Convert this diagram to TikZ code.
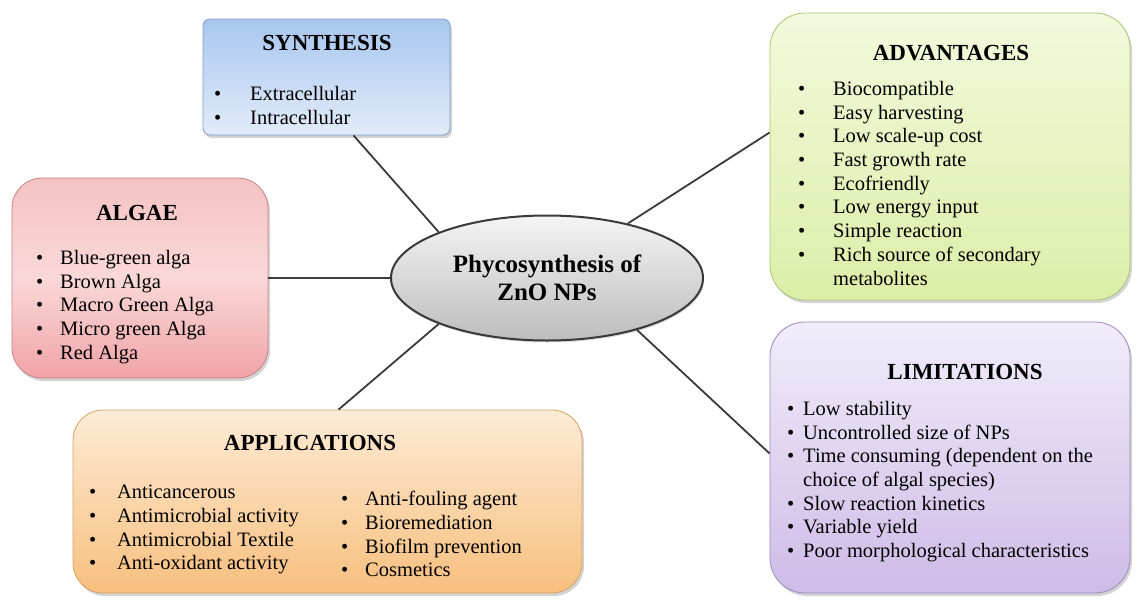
\documentclass[tikz,border=0pt]{standalone}
\usepackage{fontspec}
\setmainfont{Liberation Serif}
\usetikzlibrary{shapes.geometric,shadows}

\definecolor{synTop}{HTML}{A8C6EE}
\definecolor{synBot}{HTML}{E2ECF9}
\definecolor{synLine}{HTML}{7B9CCB}
\definecolor{algTop}{HTML}{F5C2C2}
\definecolor{algMid}{HTML}{FAD8D8}
\definecolor{algBot}{HTML}{F0A3A6}
\definecolor{algLine}{HTML}{C98487}
\definecolor{advTop}{HTML}{F2F9DC}
\definecolor{advBot}{HTML}{DCEEA8}
\definecolor{advLine}{HTML}{A9C774}
\definecolor{limTop}{HTML}{F2ECFA}
\definecolor{limBot}{HTML}{CDBCE7}
\definecolor{limLine}{HTML}{9C88BF}
\definecolor{appTop}{HTML}{FDEBD5}
\definecolor{appBot}{HTML}{F7BF7E}
\definecolor{appLine}{HTML}{D7A464}
\definecolor{coreTop}{HTML}{F4F4F4}
\definecolor{coreBot}{HTML}{BDBDBD}
\definecolor{wire}{HTML}{3A3A3A}

% bullet item, #1 = gap to the text
\newcommand{\li}[2]{\makebox[#1pt][l]{\textbullet}#2}

\begin{document}
\begin{tikzpicture}[x=1pt,y=-1pt,
    box/.style={rounded corners=30pt, line width=0.8pt,
      drop shadow={shadow xshift=2pt,shadow yshift=-3pt,opacity=0.35}},
    ttl/.style={inner sep=0pt, font=\fontsize{23}{27}\selectfont\bfseries},
    lst/.style={anchor=north west, inner sep=0pt, align=left,
      font=\fontsize{20.5}{23.7}\selectfont},
    wire/.style={draw=wire, line width=1.8pt}]
  \useasboundingbox (0,0) rectangle (1136,600);

  % centre
  \node[ellipse, draw=wire, line width=2pt, top color=coreTop, bottom color=coreBot,
    minimum width=312pt, minimum height=125pt, inner sep=0pt, align=center,
    font=\fontsize{25}{28}\selectfont\bfseries,
    drop shadow={shadow xshift=1pt,shadow yshift=-2pt,opacity=0.3}]
    (core) at (547,278) {Phycosynthesis of\\ZnO NPs};

  % boxes
  \node[box, rounded corners=7pt, draw=synLine, top color=synTop, bottom color=synBot,
    minimum width=247pt, minimum height=116pt] (syn) at (326.5,77) {};
  \node[box, draw=algLine, top color=algTop, bottom color=algBot, middle color=algMid,
    minimum width=256pt, minimum height=200pt] (alg) at (140,278) {};
  \node[box, rounded corners=35pt, draw=advLine, top color=advTop, bottom color=advBot,
    minimum width=360pt, minimum height=287pt] (adv) at (950,156.5) {};
  \node[box, rounded corners=35pt, draw=limLine, top color=limTop, bottom color=limBot,
    minimum width=360pt, minimum height=271pt] (lim) at (950,457.5) {};
  \node[box, draw=appLine, top color=appTop, bottom color=appBot,
    minimum width=509pt, minimum height=183pt] (app) at (327.5,501.5) {};

  % titles
  \node[ttl] (synT) at (327,43) {SYNTHESIS};
  \node[ttl] (algT) at (137,213) {ALGAE};
  \node[ttl] (advT) at (951,53) {ADVANTAGES};
  \node[ttl] (limT) at (965,372) {LIMITATIONS};
  \node[ttl] (appT) at (310,443) {APPLICATIONS};

  % lists
  \node[lst] (synL) at (214,86) {\li{36}{Extracellular}\\\li{36}{Intracellular}};
  \node[lst] (algL) at (36,250) {\li{24}{Blue-green alga}\\\li{24}{Brown Alga}\\
    \li{24}{Macro Green Alga}\\\li{24}{Micro green Alga}\\\li{24}{Red Alga}};
  \node[lst] (advL) at (798,81) {\li{35}{Biocompatible}\\\li{35}{Easy harvesting}\\
    \li{35}{Low scale-up cost}\\\li{35}{Fast growth rate}\\\li{35}{Ecofriendly}\\
    \li{35}{Low energy input}\\\li{35}{Simple reaction}\\
    \li{35}{Rich source of secondary}\\\hspace*{35pt}metabolites};
  \node[lst] (limL) at (787,401) {\li{16}{Low stability}\\\li{16}{Uncontrolled size of NPs}\\
    \li{16}{Time consuming (dependent on the}\\\hspace*{16pt}choice of algal species)\\
    \li{16}{Slow reaction kinetics}\\\li{16}{Variable yield}\\
    \li{16}{Poor morphological characteristics}};
  \node[lst] (appL) at (89,485) {\li{28}{Anticancerous}\\\li{28}{Antimicrobial activity}\\
    \li{28}{Antimicrobial Textile}\\\li{28}{Anti-oxidant activity}};
  \node[lst] (appR) at (341,491) {\li{24}{Anti-fouling agent}\\\li{24}{Bioremediation}\\
    \li{24}{Biofilm prevention}\\\li{24}{Cosmetics}};

  % connectors
  \draw[wire] ([xshift=27pt]syn.south) -- (core.157);
  \draw[wire] (core.west -| alg.east) -- (core.west);
  \draw[wire] (core.34) -- ([yshift=24pt]adv.west);
  \draw[wire] (core.-30) -- ([yshift=4pt]lim.west);
  \draw[wire] (core.203) -- ([xshift=11pt]app.north);
\end{tikzpicture}
\end{document}
